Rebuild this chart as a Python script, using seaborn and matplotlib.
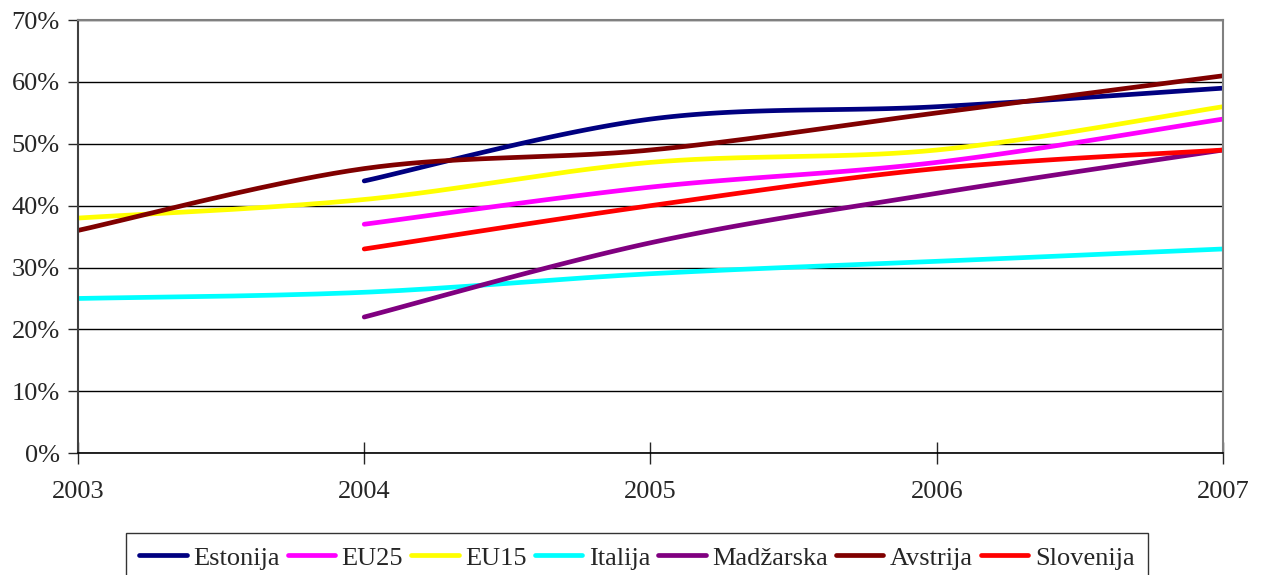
import matplotlib
matplotlib.use("Agg")
import matplotlib.pyplot as plt
import numpy as np
import pandas as pd
import seaborn as sns
from matplotlib.ticker import PercentFormatter

# Data (percent)
years = [2003, 2004, 2005, 2006, 2007]
series_names = ["Estonija", "EU25", "EU15", "Italija", "Madžarska", "Avstrija", "Slovenija"]
estonija = [None, 44, 54, 56, 59]
eu25 = [None, 37, 43, 47, 54]
eu15 = [38, 41, 47, 49, 56]
italija = [25, 26, 29, 31, 33]
madzarska = [None, 22, 34, 42, 49]
avstrija = [36, 46, 49, 55, 61]
slovenija = [None, 33, 40, 46, 49]
colors = ["#000080", "#FF00FF", "#FFFF00", "#00FFFF", "#800080", "#800000", "#FF0000"]

values = [estonija, eu25, eu15, italija, madzarska, avstrija, slovenija]


def smooth(xs, ys, n=40):
    # Catmull-Rom style curve through the points, like Excel's smoothed line
    xs = np.asarray(xs, float)
    ys = np.asarray(ys, float)
    px = np.concatenate([[xs[0]], xs, [xs[-1]]])
    py = np.concatenate([[ys[0]], ys, [ys[-1]]])
    out_x, out_y = [], []
    for i in range(1, len(px) - 2):
        t = np.linspace(0, 1, n)
        p0, p1, p2, p3 = px[i - 1], px[i], px[i + 1], px[i + 2]
        q0, q1, q2, q3 = py[i - 1], py[i], py[i + 1], py[i + 2]
        b1 = np.array([p1 + (p2 - p0) / 6, q1 + (q2 - q0) / 6])
        b2 = np.array([p2 - (p3 - p1) / 6, q2 - (q3 - q1) / 6])
        cx = (1 - t) ** 3 * p1 + 3 * (1 - t) ** 2 * t * b1[0] + 3 * (1 - t) * t ** 2 * b2[0] + t ** 3 * p2
        cy = (1 - t) ** 3 * q1 + 3 * (1 - t) ** 2 * t * b1[1] + 3 * (1 - t) * t ** 2 * b2[1] + t ** 3 * q2
        out_x.extend(cx)
        out_y.extend(cy)
    return out_x, out_y


rows = []
for name, vals in zip(series_names, values):
    pts = [(y, v) for y, v in zip(years, vals) if v is not None]
    sx, sy = smooth([p[0] for p in pts], [p[1] for p in pts])
    for order, (a, b) in enumerate(zip(sx, sy)):
        rows.append({"year": a, "value": b, "series": name, "order": order})
df = pd.DataFrame(rows)

sns.set_style("white")
plt.rcParams["font.family"] = ["Liberation Serif", "DejaVu Serif"]

fig = plt.figure(figsize=(12.66, 5.75), dpi=100)
ax = fig.add_axes([0.0616, 0.212, 0.9044, 0.753])

sns.lineplot(
    data=df,
    x="year",
    y="value",
    hue="series",
    hue_order=series_names,
    palette=colors,
    sort=False,
    estimator=None,
    units="series",
    linewidth=3.4,
    solid_capstyle="round",
    ax=ax,
)

ax.set_xlim(2003, 2007)
ax.set_ylim(0, 70)
ax.set_xticks(years)
ax.set_yticks(range(0, 71, 10))
ax.yaxis.set_major_formatter(PercentFormatter(decimals=0))
ax.grid(axis="y", color="black", linewidth=1)
ax.set_axisbelow(True)
ax.set_xlabel("")
ax.set_ylabel("")

for side in ["top", "right"]:
    ax.spines[side].set_color("#808080")
    ax.spines[side].set_linewidth(1.5)
ax.spines["left"].set_color("#404040")
ax.spines["left"].set_linewidth(1.5)
ax.spines["bottom"].set_color("black")
ax.spines["bottom"].set_linewidth(1.2)

ax.tick_params(axis="y", direction="out", length=7, width=1, labelsize=19, pad=6, left=True)
ax.tick_params(axis="x", direction="inout", length=16, width=1, labelsize=19, pad=12, bottom=True)

handles, labels = ax.get_legend_handles_labels()
ax.get_legend().remove()
leg = fig.legend(
    handles,
    labels,
    loc="upper center",
    bbox_to_anchor=(0.503, 0.073),
    ncol=7,
    fontsize=19,
    frameon=True,
    fancybox=False,
    edgecolor="black",
    handlelength=1.8,
    handletextpad=0.25,
    columnspacing=0.3,
    borderpad=0.5,
    borderaxespad=0,
)
leg.get_frame().set_linewidth(1)
for line in leg.get_lines():
    line.set_linewidth(3.4)

fig.savefig("out.png", dpi=100)
